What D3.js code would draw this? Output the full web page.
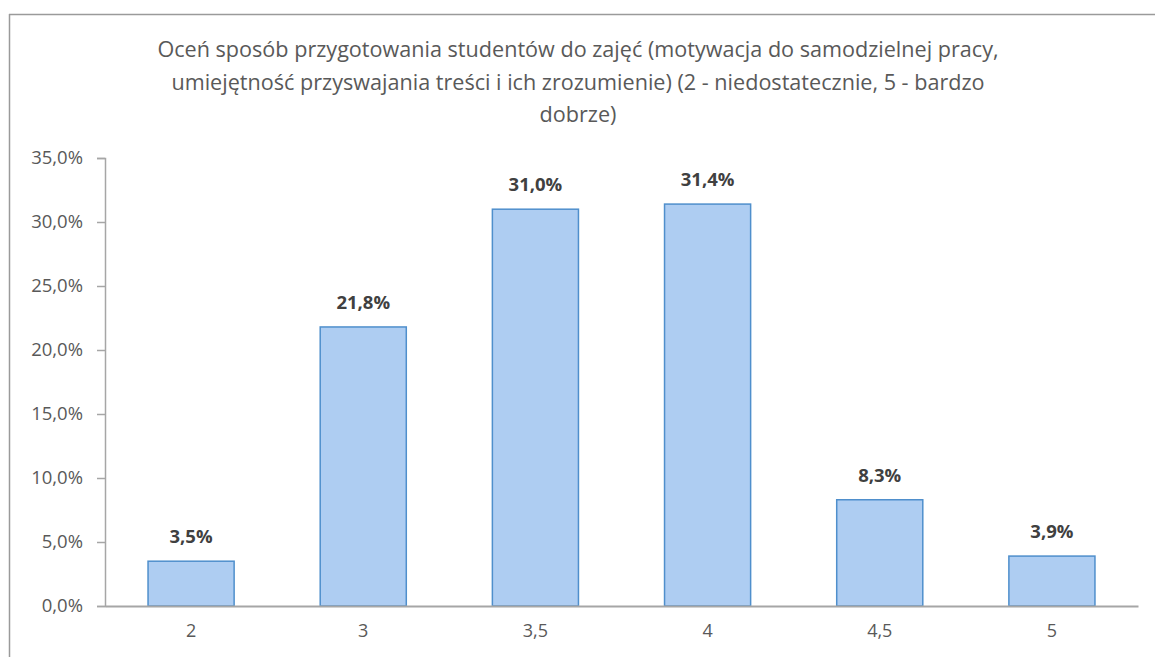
<!DOCTYPE html>
<html><head><meta charset="utf-8">
<script src="https://cdn.jsdelivr.net/npm/d3@7"></script>
<style>body{margin:0;background:#fff}svg{display:block}</style>
</head><body>
<script>
const categories = ["2","3","3,5","4","4,5","5"];
const values = [3.5, 21.8, 31.0, 31.4, 8.3, 3.9];
const yTicks = [0,5,10,15,20,25,30,35];
const titleLines = [
 "Oceń sposób przygotowania studentów do zajęć (motywacja do samodzielnej pracy,",
 "umiejętność przyswajania treści i ich zrozumienie) (2 - niedostatecznie, 5 - bardzo",
 "dobrze)"];

const W=1155,H=657;
const svg=d3.select("body").append("svg").attr("width",W).attr("height",H);
const font="'Open Sans', 'Noto Sans', sans-serif";
// frame
svg.append("line").attr("x1",9).attr("x2",W).attr("y1",14.5).attr("y2",14.5).attr("stroke","#9a9a9a").attr("stroke-width",1.5);
svg.append("line").attr("x1",9.5).attr("x2",9.5).attr("y1",14).attr("y2",H).attr("stroke","#9a9a9a").attr("stroke-width",1.5);

const x=d3.scaleBand().domain(categories).range([105,1138]).paddingInner(0.5).paddingOuter(0.25);
const y=d3.scaleLinear().domain([0,35]).range([606,158]);

svg.append("g").selectAll("text").data(titleLines).join("text")
 .attr("x",578).attr("y",(d,i)=>57+i*32.5).attr("text-anchor","middle")
 .attr("font-family",font).attr("font-size",21.6).attr("fill","#595959").text(d=>d);

const fmt=v=>v.toFixed(1).replace(".",",")+"%";

const ya=svg.append("g").attr("transform","translate(105,0)")
 .call(d3.axisLeft(y).tickValues(yTicks).tickFormat(fmt).tickSize(8).tickPadding(14));
ya.select(".domain").attr("stroke","#a6a6a6").attr("stroke-width",1.5);
ya.selectAll(".tick line").attr("stroke","#a6a6a6").attr("stroke-width",1.5);
ya.selectAll("text").attr("font-family",font).attr("font-size",18.5).attr("fill","#595959");

svg.append("g").selectAll("rect").data(values).join("rect")
 .attr("x",(d,i)=>x(categories[i])).attr("width",x.bandwidth())
 .attr("y",d=>y(d)).attr("height",d=>y(0)-y(d))
 .attr("fill","#aecdf2").attr("stroke","#4f8fcc").attr("stroke-width",1.5);

const xa=svg.append("g").attr("transform","translate(0,606)")
 .call(d3.axisBottom(x).tickSize(0).tickPadding(18));
xa.select(".domain").attr("stroke","#a6a6a6").attr("stroke-width",2);
xa.selectAll("text").attr("font-family",font).attr("font-size",18).attr("fill","#595959");

svg.append("g").selectAll("text").data(values).join("text")
 .attr("x",(d,i)=>x(categories[i])+x.bandwidth()/2).attr("y",d=>y(d)-18)
 .attr("text-anchor","middle").attr("font-family",font).attr("font-size",18.5).attr("font-weight","bold")
 .attr("fill","#404040").text(fmt);
</script>
</body></html>
